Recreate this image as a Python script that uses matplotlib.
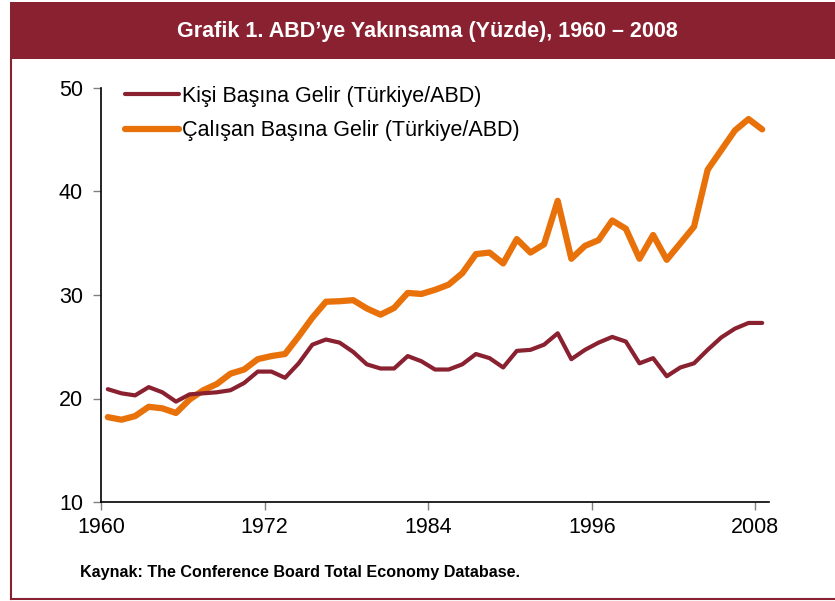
import matplotlib
matplotlib.use("Agg")
import matplotlib.pyplot as plt
from matplotlib.patches import Rectangle
from matplotlib.lines import Line2D

plt.rcParams['font.family'] = ['Liberation Sans', 'DejaVu Sans']

years = list(range(1960, 2009))
kisi = [20.9, 20.5, 20.3, 21.1, 20.6, 19.7, 20.4, 20.5, 20.6, 20.8,
        21.5, 22.6, 22.6, 22.0, 23.4, 25.2, 25.7, 25.4, 24.5, 23.3,
        22.9, 22.9, 24.1, 23.6, 22.8, 22.8, 23.3, 24.3, 23.9, 23.0,
        24.6, 24.7, 25.2, 26.3, 23.8, 24.7, 25.4, 25.95, 25.5, 23.4,
        23.9, 22.15, 23.0, 23.4, 24.7, 25.9, 26.75, 27.3, 27.3]
calisan = [18.2, 17.95, 18.3, 19.2, 19.05, 18.6, 19.9, 20.8, 21.4, 22.4,
           22.8, 23.8, 24.1, 24.3, 26.0, 27.8, 29.35, 29.4, 29.5, 28.7,
           28.1, 28.75, 30.2, 30.1, 30.5, 31.0, 32.1, 33.95, 34.1, 33.05,
           35.4, 34.1, 34.9, 39.1, 33.5, 34.75, 35.3, 37.2, 36.4, 33.5,
           35.8, 33.4, 35.0, 36.6, 42.1, 44.0, 45.9, 47.0, 46.0]
tick_labels = ['1960', '1972', '1984', '1996', '2008']
y_ticks = [10, 20, 30, 40, 50]
series_names = ['Kişi Başına Gelir (Türkiye/ABD)', 'Çalışan Başına Gelir (Türkiye/ABD)']
title = 'Grafik 1. ABD’ye Yakınsama (Yüzde), 1960 – 2008'
source = 'Kaynak: The Conference Board Total Economy Database.'

W, H = 835, 601
fig = plt.figure(figsize=(W / 100, H / 100), dpi=100)

red = '#8A2131'
orange = '#E8710A'

# title bar and frame
fig.patches.append(Rectangle((10 / W, 1 - 59 / H), (W - 10) / W, 57 / H,
                             transform=fig.transFigure, facecolor=red,
                             edgecolor='none', zorder=0))
fig.lines.append(Line2D([10.5 / W, 10.5 / W], [1 - 59 / H, 1 - 598.5 / H],
                        transform=fig.transFigure, color=red, lw=1.5))
fig.lines.append(Line2D([10.5 / W, 1.0], [1 - 598.5 / H, 1 - 598.5 / H],
                        transform=fig.transFigure, color=red, lw=1.5))
fig.text(427 / W, 1 - 31 / H, title, color='white', fontsize=15.5,
         fontweight='bold', ha='center', va='center')
fig.text(80 / W, 1 - 572 / H, source, color='black', fontsize=11.6,
         fontweight='bold', ha='left', va='center')

ax = fig.add_axes([101 / W, 1 - 502 / H, (769 - 101) / W, (502 - 88) / H])
ax.plot(years, kisi, color=red, lw=3.0, solid_joinstyle='round',
        solid_capstyle='round', label=series_names[0], zorder=3)
ax.plot(years, calisan, color=orange, lw=4.5, solid_joinstyle='round',
        solid_capstyle='round', label=series_names[1], zorder=2)

ax.set_xlim(years[0] - 0.5, years[-1] + 0.5)
ax.set_ylim(10, 50)
xt = [int(t) - 0.5 for t in tick_labels]
ax.set_xticks(xt)
ax.set_xticklabels(tick_labels, fontsize=15.5)
ax.set_yticks(y_ticks)
ax.set_yticklabels([str(v) for v in y_ticks], fontsize=15.5)
ax.tick_params(axis='both', direction='out', length=6, width=1,
               color='#808080', pad=7)
ax.tick_params(axis='x', pad=5)
for s in ['top', 'right']:
    ax.spines[s].set_visible(False)
for s in ['left', 'bottom']:
    ax.spines[s].set_color('black')
    ax.spines[s].set_linewidth(1.2)

leg = ax.legend(loc='upper left', bbox_to_anchor=(125 / W, 1 - 86 / H),
                bbox_transform=fig.transFigure, frameon=False, fontsize=15.5,
                handlelength=2.5, handletextpad=0.14, labelspacing=0.62,
                borderpad=0, borderaxespad=0)

fig.savefig('out.png', dpi=100)
